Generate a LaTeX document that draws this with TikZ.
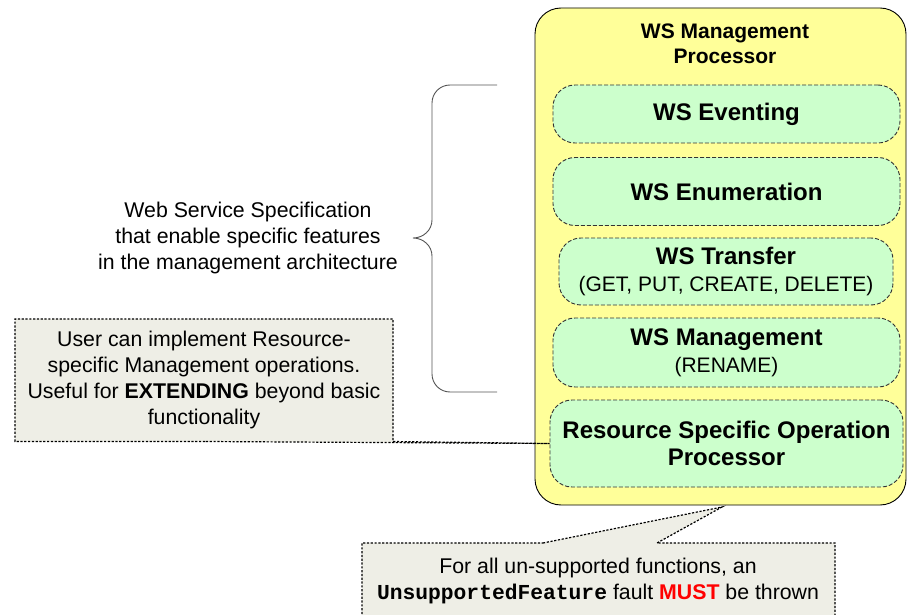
\documentclass[tikz,border=0pt]{standalone}
\usepackage{fontspec}
\setmainfont{Liberation Sans}
\setmonofont{Liberation Mono}
\definecolor{procyellow}{HTML}{FFFF99}
\definecolor{specgreen}{HTML}{CCFFCC}
\definecolor{notefill}{HTML}{EEEEE6}
\definecolor{bracegray}{HTML}{555555}
\newcommand\specfont{\fontsize{24}{27}\selectfont\bfseries}
\newcommand\subfont{\mdseries\fontsize{21}{27}\selectfont}
\newcommand\notefont{\fontsize{21.3}{26}\selectfont}
\tikzset{
  processor/.style={draw=black, line width=0.9pt, fill=procyellow, rounded corners=26pt},
  specbox/.style={draw=black!80, dash pattern=on 4pt off 2pt, line width=0.9pt,
    fill=specgreen, rounded corners=22pt, align=center, font=\specfont, inner sep=0pt},
  notebox/.style={draw=black, dash pattern=on 2.2pt off 1.6pt, line width=1.2pt,
    fill=notefill},
  bracestyle/.style={draw=bracegray, line width=0.9pt},
}
\begin{document}
\begin{tikzpicture}[x=1pt,y=-1pt]
\useasboundingbox (0,0) rectangle (908,615);

% processor container
\path[processor] (535,8) rectangle (906,505);
\node[font=\fontsize{21}{25}\selectfont\bfseries, align=center] (title) at (725,43.5)
  {WS Management\\Processor};

% specification layers
\node[specbox, minimum width=347pt, minimum height=58pt] (evt) at (726.5,114) {WS Eventing};
\node[specbox, minimum width=347pt, minimum height=68pt] (enum) at (726.5,191.5) {WS Enumeration};
\node[specbox, minimum width=334pt, minimum height=67pt] (xfer) at (726,271.5)
  {WS Transfer\\{\subfont (GET, PUT, CREATE, DELETE)}};
\node[specbox, minimum width=347pt, minimum height=69pt] (mgmt) at (726.5,352.5)
  {WS Management\\{\subfont (RENAME)}};
\node[specbox, minimum width=353pt, minimum height=87pt] (rso) at (726.5,443.5)
  {Resource Specific Operation\\Processor};

% brace grouping the web service specifications
\coordinate (bt) at (497,85);
\coordinate (bb) at (497,392);
\coordinate (btip) at (413,238);
\draw[bracestyle] (bt) -- (450,85) to[out=180,in=90] (432,103) -- (432,220)
  to[out=-90,in=0] (btip) to[out=0,in=90] (432,256) -- (432,374)
  to[out=-90,in=180] (450,392) -- (bb);
\node[font=\notefont, align=center] (spec) at (248,238)
  {Web Service Specification\\that enable specific features\\in the management architecture};

% note on resource-specific operations
\path[notebox] (205,441.5) -- (15,441.5) -- (15,319) -- (393,319) -- (393,441.5)
  -- (rso.west) -- cycle;
\node[font=\notefont, align=center] (user) at (204,380)
  {User can implement Resource-\\specific Management operations.\\Useful for \textbf{EXTENDING} beyond basic\\functionality};

% note on unsupported features
\coordinate (ftip) at (722,507);
\path[notebox] (543,543) -- (ftip) -- (657,543) -- (835,543) -- (835,630)
  -- (362,630) -- (362,543) -- cycle;
\node[font=\notefont, align=center] (fault) at (598,580.5)
  {For all un-supported functions, an\\\texttt{\textbf{UnsupportedFeature}} fault \textbf{\color{red}MUST} be thrown};
\end{tikzpicture}
\end{document}
